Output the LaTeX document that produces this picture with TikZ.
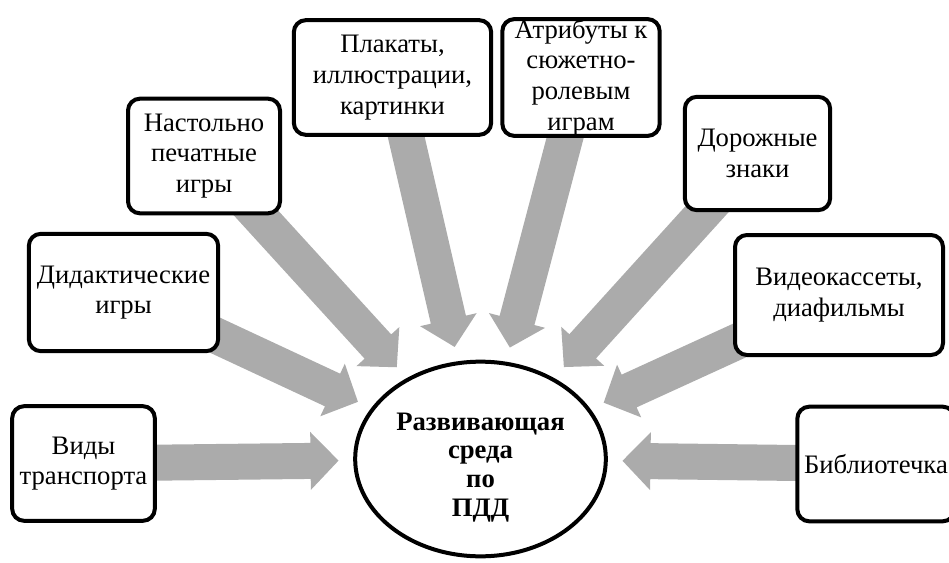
\documentclass[tikz,border=0pt]{standalone}
\usepackage{fontspec}
\setmainfont{Liberation Serif}
\usetikzlibrary{shapes.geometric,calc,backgrounds}
\definecolor{arrowgray}{RGB}{171,171,171}

\begin{document}
\begin{tikzpicture}[x=0.75pt, y=-0.75pt,
  box/.style={draw, line width=3pt, rounded corners=9pt, fill=white, align=center, inner sep=0pt,
    font=\fontsize{20}{23}\selectfont},
  hub/.style={draw, ellipse, line width=3pt, fill=white, align=center, inner sep=0pt,
    minimum width=188pt, minimum height=146pt, text height=90pt,
    font=\fontsize{20}{21.5}\selectfont\bfseries}]

            \clip (0,0) rectangle (949,563);

            \node [hub] (hub) at (480.5,459) {Развивающая\\среда\\по\\ПДД};

            \node [box, minimum width=107pt, minimum height=86pt] (vidy) at (83.5,463.5) {Виды\\транспорта};
            \node [box, minimum width=142pt, minimum height=88pt] (didakt) at (123.5,292.5) {Дидактические\\игры};
            \node [box, minimum width=114pt, minimum height=86pt] (nastol) at (204,156) {Настольно\\печатные\\игры};
            \node [box, minimum width=148pt, minimum height=86pt] (plakat) at (392.5,77.5) {Плакаты,\\иллюстрации,\\картинки};
            \node [box, minimum width=118pt, minimum height=86pt] (atrib) at (581,77.5) {Атрибуты к\\сюжетно-\\ролевым\\играм};
            \node [box, minimum width=109pt, minimum height=85pt] (dorozh) at (757.5,153.5) {Дорожные\\знаки};
            \node [box, minimum width=156pt, minimum height=90pt] (video) at (839,295) {Видеокассеты,\\диафильмы};
            \node [box, minimum width=118pt, minimum height=86pt] (biblio) at (876,464) {Библиотечка};

            \begin{scope}[on background layer]
              \foreach \src in {vidy,didakt,nastol,plakat,atrib,dorozh,video,biblio} {
                \path (\src.center) -- (hub) coordinate [pos=1] (e);
                \coordinate (t) at ($(e)!11pt!(\src.center)$);
                \coordinate (b) at ($(t)!21pt!(\src.center)$);
                \fill [arrowgray] ($(\src.center)!13.5pt!90:(t)$) -- ($(b)!13.5pt!-90:(\src.center)$)
                  -- ($(b)!21.75pt!-90:(\src.center)$) -- (t) -- ($(b)!21.75pt!90:(\src.center)$)
                  -- ($(b)!13.5pt!90:(\src.center)$) -- ($(\src.center)!13.5pt!-90:(t)$) -- cycle;
              }
            \end{scope}
            \end{tikzpicture}
\end{document}
